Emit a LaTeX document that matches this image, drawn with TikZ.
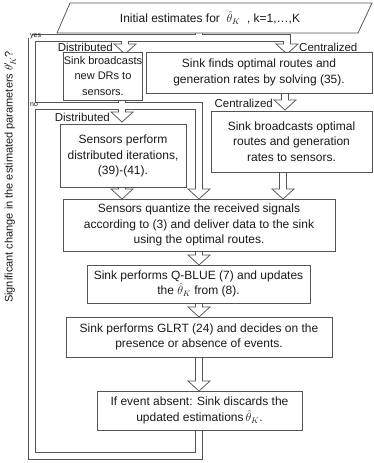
\documentclass[tikz,border=0pt]{standalone}
\usepackage{fontspec}
\setmainfont{Liberation Sans}
\definecolor{edge}{HTML}{555555}
\definecolor{ink}{HTML}{1A1A1A}
\begin{document}
\begin{tikzpicture}[x=1pt,y=-1pt,
  box/.style={draw=edge, line width=0.75pt, fill=white, align=center,
    inner sep=0pt, text=ink, font=\fontsize{12}{15.5}\selectfont},
  lbl/.style={inner sep=0pt, text=ink, font=\fontsize{11.5}{13}\selectfont},
  tag/.style={inner sep=0pt, text=ink, font=\fontsize{7}{8}\selectfont},
  pipeout/.style={draw=edge, line width=7.75pt, line join=miter},
  pipein/.style={draw=white, line width=6.25pt, line join=miter},
  head/.style={draw=edge, line width=0.75pt, fill=white, line join=miter},
]
\useasboundingbox (0,0) rectangle (373,463);

% pipe corner points
\coordinate (yesW) at (32,38);
\coordinate (yesE) at (287,38);
\coordinate (noW) at (32,106);
\coordinate (noE) at (199,106);
\coordinate (loopE) at (199,456);
\coordinate (loopW) at (32,456);

% ---- outer edges of the pipes ----
\draw[pipeout] (199,33) -- (199,38);
\draw[pipeout] (yesW) -- (yesE) -- (287,45);
\draw[pipeout] (125,38) -- (125,45);
\draw[pipeout] (122,100) -- (122,113);
\draw[pipeout] (noW) -- (noE) -- (199,190);
\draw[pipeout] (285,93) -- (285,101);
\draw[pipeout] (122,188) -- (122,190);
\draw[pipeout] (283,172) -- (283,190);
\draw[pipeout] (199,251) -- (199,256);
\draw[pipeout] (199,303) -- (199,308);
\draw[pipeout] (199,357) -- (199,382);
\draw[pipeout] (199,430) -- (loopE) -- (loopW) -- (yesW);

% ---- hollow arrow heads ----
\foreach \hx/\hy in {125/44, 287/44, 122/112, 199/189, 285/100, 122/189,
                    283/189, 199/255, 199/307, 199/381}
  \path[head] (\hx-11,\hy) -- (\hx+11,\hy) -- (\hx,\hy+10) -- cycle;

% ---- white inside of the pipes ----
\draw[pipein] (199,32) -- (199,38);
\draw[pipein] (yesW) -- (yesE) -- (287,45);
\draw[pipein] (125,38) -- (125,45);
\draw[pipein] (122,99) -- (122,113);
\draw[pipein] (noW) -- (noE) -- (199,190);
\draw[pipein] (285,92) -- (285,101);
\draw[pipein] (122,187) -- (122,190);
\draw[pipein] (283,171) -- (283,190);
\draw[pipein] (199,250) -- (199,256);
\draw[pipein] (199,302) -- (199,308);
\draw[pipein] (199,356) -- (199,382);
\draw[pipein] (199,431) -- (loopE) -- (loopW) -- (yesW);

% ---- start block ----
\path[draw=edge, line width=0.75pt, fill=white] (70,3) -- (372,3) -- (358,33) -- (57,33) -- cycle;
\node[lbl, font=\fontsize{12}{14}\selectfont] (start) at (210,18)
  {Initial estimates for \ $\hat{\theta}_{K}$ \ , k=1,\dots,K};

% ---- process boxes ----
\node[box, minimum width=76pt, minimum height=48pt, font=\fontsize{11}{15.5}\selectfont] (b1) at (103,76)
  {Sink broadcasts\\new DRs to\\sensors.};
\node[box, minimum width=226pt, minimum height=41pt] (b2) at (259,72.5)
  {Sink finds optimal routes and\\generation rates by solving (35).};
\node[box, minimum width=126pt, minimum height=63pt] (b3) at (123,156)
  {Sensors perform\\distributed iterations,\\(39)-(41).};
\node[box, minimum width=161pt, minimum height=61pt] (b4) at (291.5,141.5)
  {Sink broadcasts optimal\\routes and generation\\rates to sensors.};
\node[box, minimum width=272pt, minimum height=52pt] (b5) at (199,225)
  {Sensors quantize the received signals\\according to (3) and deliver data to the sink\\using the optimal routes.};
\node[box, minimum width=223pt, minimum height=38pt] (b6) at (198.5,284)
  {Sink performs Q-BLUE (7) and updates\\the $\hat{\theta}_{K}$\ from (8).};
\node[box, minimum width=266pt, minimum height=40pt] (b7) at (199,337)
  {Sink performs GLRT (24) and decides on the\\presence or absence of events.};
\node[box, minimum width=205pt, minimum height=39pt] (b8) at (199.5,410.5)
  {If event absent: Sink discards the\\updated estimations\,$\hat{\theta}_{K}$.};

% ---- branch labels ----
\node[lbl, anchor=east] (d1) at (113,47) {Distributed};
\node[lbl, anchor=west] (c1) at (299,47) {Centralized};
\node[lbl, anchor=east] (d2) at (110,117) {Distributed};
\node[lbl, anchor=east] (c2) at (273,103) {Centralized};
\node[tag, anchor=west] (yes) at (30,36.5) {yes};
\node[tag, anchor=west] (no) at (30,104.5) {no};

% ---- loop condition ----
\node[lbl, rotate=90, font=\fontsize{11}{12}\selectfont] (cond) at (10,177)
  {Significant change in the estimated parameters $\theta'_{K}$?};
\end{tikzpicture}
\end{document}
